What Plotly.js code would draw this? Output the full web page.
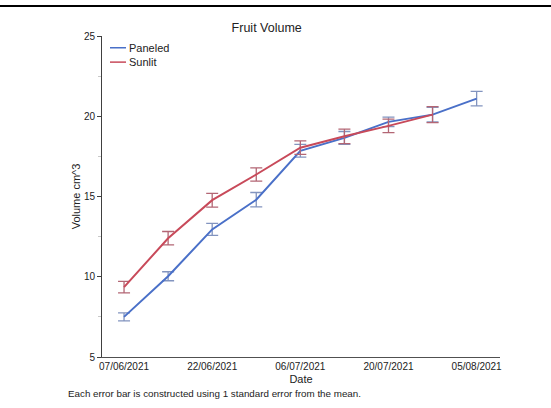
<!DOCTYPE html>
<html>
<head>
<meta charset="utf-8">
<script src="https://cdn.plot.ly/plotly-3.0.1.min.js"></script>
<style>
  html, body { margin: 0; padding: 0; background: #fff; }
  #wrap { position: relative; width: 551px; height: 408px; overflow: hidden; }
  #topbar { position: absolute; left: 0; top: 5px; width: 551px; height: 2px; background: #000; z-index: 5; }
  #chart { position: absolute; left: 0; top: 0; width: 551px; height: 408px; }
</style>
</head>
<body>
<div id="wrap">
  <div id="chart"></div>
  <div id="topbar"></div>
</div>
<script>
// ---- data ----
const dates = ['07/06/2021', '14/06/2021', '22/06/2021', '29/06/2021', '06/07/2021',
               '13/07/2021', '20/07/2021', '27/07/2021', '05/08/2021'];
const tickDates = ['07/06/2021', '22/06/2021', '06/07/2021', '20/07/2021', '05/08/2021'];

const paneledDates = dates;
const paneledMean = [7.5, 10.03, 12.95, 14.8, 17.85, 18.65, 19.65, 20.1, 21.1];
const paneledSE   = [0.25, 0.28, 0.37, 0.45, 0.4, 0.4, 0.3, 0.45, 0.45];

const sunlitDates = dates.slice(0, 8);
const sunlitMean = [9.35, 12.4, 14.77, 16.37, 18.04, 18.75, 19.4, 20.1];
const sunlitSE   = [0.36, 0.42, 0.43, 0.41, 0.42, 0.45, 0.42, 0.5];

const seriesNames = ['Paneled', 'Sunlit'];
const footNote = 'Each error bar is constructed using 1 standard error from the mean.';

// ---- style ----
const FONT = '"Liberation Sans", Arial, sans-serif';
const BLUE = '#4a70c8', RED = '#c84a5a';
const BLUE_ERR = '#8294bf', RED_ERR = '#b36674';

// plot area in pixels
const L = 102, R = 500, T = 35.5, B = 357.5;
const W = 551, H = 408;
const px = x => (x - L) / (R - L);
const py = y => (B - y) / (B - T);

const traces = [
  {
    x: paneledDates, y: paneledMean, name: seriesNames[0], type: 'scatter', mode: 'lines',
    line: { color: BLUE, width: 2 },
    error_y: { type: 'data', array: paneledSE, visible: true, color: BLUE_ERR, thickness: 1.3, width: 6 },
    showlegend: false
  },
  {
    x: sunlitDates, y: sunlitMean, name: seriesNames[1], type: 'scatter', mode: 'lines',
    line: { color: RED, width: 2 },
    error_y: { type: 'data', array: sunlitSE, visible: true, color: RED_ERR, thickness: 1.3, width: 6 },
    showlegend: false
  }
];

const legendY = [47.3, 61.7];
const legendColors = [BLUE, RED];

const shapes = legendY.map((yy, i) => ({
  type: 'line', xref: 'paper', yref: 'paper',
  x0: px(110), x1: px(126), y0: py(yy), y1: py(yy),
  line: { color: legendColors[i], width: 1.5 }
}));

const annotations = legendY.map((yy, i) => ({
  xref: 'paper', yref: 'paper', x: px(126.5), y: py(yy),
  xanchor: 'left', yanchor: 'middle', showarrow: false,
  text: seriesNames[i], font: { family: FONT, size: 11, color: '#222' }
}));
annotations.push({
  xref: 'paper', yref: 'paper', x: px(66), y: py(394),
  xanchor: 'left', yanchor: 'middle', showarrow: false,
  text: footNote, font: { family: FONT, size: 9.8, color: '#222' }
});

const layout = {
  width: W, height: H,
  margin: { l: L, r: W - R, t: T, b: H - B, pad: 0 },
  paper_bgcolor: '#fff', plot_bgcolor: '#fff',
  font: { family: FONT, size: 10, color: '#222' },
  title: {
    text: 'Fruit Volume', xref: 'container', yref: 'container',
    x: 266.7 / W, xanchor: 'center', y: 1 - 27.5 / H, yanchor: 'middle',
    font: { family: FONT, size: 12.5, color: '#222' }
  },
  xaxis: {
    type: 'category', range: [-0.5, 8.53],
    tickvals: tickDates, ticktext: tickDates,
    showline: true, linecolor: '#505050', linewidth: 1,
    ticks: '', showgrid: false, zeroline: false,
    tickfont: { family: FONT, size: 10, color: '#222' },
    title: { text: 'Date', font: { family: FONT, size: 11, color: '#222' }, standoff: 4 },
    automargin: false, fixedrange: true
  },
  yaxis: {
    range: [5, 25], dtick: 5, tick0: 5,
    showline: true, linecolor: '#404040', linewidth: 1,
    ticks: 'outside', ticklen: 4, tickcolor: '#404040', tickwidth: 1,
    minor: { dtick: 2.5, tick0: 5, ticks: 'outside', ticklen: 3, tickcolor: '#c8c8c8', showgrid: false },
    showgrid: false, zeroline: false,
    tickfont: { family: FONT, size: 10, color: '#222' },
    title: { text: 'Volume cm^3', font: { family: FONT, size: 11, color: '#222' }, standoff: 1 },
    automargin: false, fixedrange: true
  },
  shapes: shapes,
  annotations: annotations,
  showlegend: false
};

Plotly.newPlot('chart', traces, layout, { displayModeBar: false, staticPlot: true });
</script>
</body>
</html>
